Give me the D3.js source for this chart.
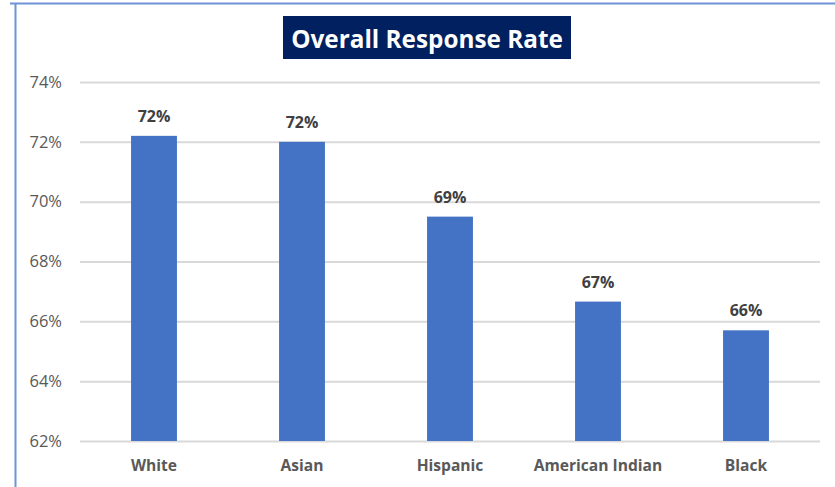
<!DOCTYPE html>
<html><head><meta charset="utf-8">
<script src="https://cdn.jsdelivr.net/npm/d3@7"></script>
<style>body{margin:0;background:#fff}svg{display:block}</style>
</head><body>
<svg id="c" width="835" height="487"></svg>
<script>
const categories = ["White","Asian","Hispanic","American Indian","Black"];
const values = [72.2, 72.0, 69.5, 66.66, 65.7];
const labels = ["72%","72%","69%","67%","66%"];
const yTicks = [62,64,66,68,70,72,74];
const title = "Overall Response Rate";

const svg = d3.select("#c");
const font = "'Open Sans', Lato, sans-serif";
// frame lines
svg.append("line").attr("x1",10).attr("x2",835).attr("y1",3.5).attr("y2",3.5).attr("stroke","#6f93d6").attr("stroke-width",2);
svg.append("line").attr("x1",15.5).attr("x2",15.5).attr("y1",3).attr("y2",487).attr("stroke","#6f93d6").attr("stroke-width",2);

const x = d3.scaleBand().domain(categories).range([80,820]).paddingInner(0.69).paddingOuter(0.345);
const y = d3.scaleLinear().domain([62,74]).range([441,82]);

const grid = svg.append("g").attr("transform","translate(80,0)")
  .call(d3.axisLeft(y).tickValues(yTicks).tickSize(-740).tickFormat(d=>d+"%"));
grid.select(".domain").remove();
grid.selectAll(".tick line").attr("stroke","#d9d9d9").attr("stroke-width",2);
grid.selectAll(".tick text").attr("x",-18).attr("fill","#595959").style("font-family",font).style("font-size","16.5px");

svg.append("g").selectAll("rect").data(categories).join("rect")
  .attr("x",d=>x(d)).attr("width",x.bandwidth())
  .attr("y",(d,i)=>y(values[i])).attr("height",(d,i)=>y(62)-y(values[i]))
  .attr("fill","#4472c4");

svg.append("g").selectAll("text").data(categories).join("text")
  .attr("x",d=>x(d)+x.bandwidth()/2).attr("y",(d,i)=>y(values[i])-14)
  .attr("text-anchor","middle").attr("fill","#404040").style("font-family",font)
  .style("font-size","16px").style("font-weight","bold").text((d,i)=>labels[i]);

const xa = svg.append("g").attr("transform","translate(0,441)").call(d3.axisBottom(x).tickSize(0));
xa.select(".domain").remove();
xa.selectAll(".tick text").attr("dy","0").attr("y",30).attr("fill","#595959").style("font-family",font).style("font-size","15.6px").style("font-weight","bold");

svg.append("rect").attr("x",283).attr("y",16).attr("width",288).attr("height",43).attr("fill","#002060");
svg.append("text").attr("x",427).attr("y",47.5).attr("text-anchor","middle").attr("fill","#fff")
  .style("font-family",font).style("font-size","24.3px").style("font-weight","bold").text(title);
</script>
</body></html>
